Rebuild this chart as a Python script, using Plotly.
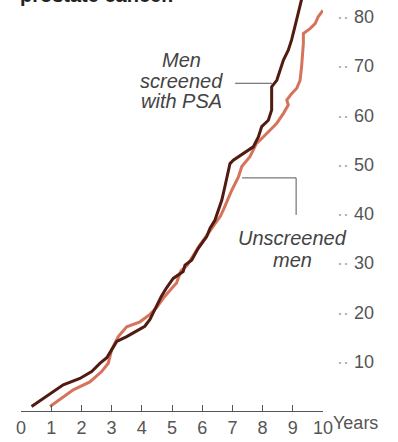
import plotly.graph_objects as go

# Men screened with PSA (dark line)
screened_years = [0.35, 1.07, 1.40, 1.95, 2.34, 2.62, 2.84, 3.00, 3.17, 3.50, 3.94, 4.10,
                  4.27, 4.49, 4.65, 4.82, 5.04, 5.37, 5.43, 5.65, 5.87, 6.15, 6.26, 6.42,
                  6.53, 6.65, 6.75, 6.92, 7.03, 7.36, 7.69, 7.86, 7.97, 8.19, 8.30, 8.30,
                  8.30, 8.47, 8.58, 8.69, 8.85, 8.96, 9.07, 9.18, 9.29, 9.35]
screened_vals = [0.9, 3.9, 5.3, 6.6, 8.0, 9.7, 10.8, 12.4, 14.1, 15.1, 16.6, 17.2,
                 18.6, 21.4, 23.3, 25.0, 26.9, 28.3, 29.6, 30.6, 33.0, 35.4, 37.1, 38.7,
                 40.8, 42.8, 45.5, 50.2, 50.9, 52.3, 53.6, 55.6, 57.7, 59.0, 61.1, 63.1,
                 65.8, 67.1, 69.2, 71.2, 73.2, 75.3, 78.0, 80.7, 83.4, 85.0]

# Unscreened men (light line)
unscreened_years = [0.96, 1.40, 1.73, 2.28, 2.67, 2.89, 3.00, 3.22, 3.50, 3.94, 4.27,
                    4.49, 4.75, 4.95, 5.15, 5.30, 5.50, 5.70, 5.90, 6.10, 6.26, 6.45, 6.60,
                    6.70, 6.98, 7.20, 7.31, 7.58, 7.80, 8.02, 8.25, 8.47, 8.69, 8.85,
                    8.80, 8.96, 9.13, 9.24, 9.29, 9.35, 9.35, 9.57, 9.74, 9.84, 10.0]
unscreened_vals = [0.9, 2.9, 4.3, 5.9, 8.0, 9.7, 12.4, 15.1, 17.1, 18.1, 19.6,
                   21.0, 23.2, 24.6, 26.0, 28.5, 29.5, 31.5, 33.5, 35.2, 36.5, 38.2, 39.5,
                   40.8, 44.8, 47.5, 49.6, 51.6, 54.3, 55.6, 57.0, 58.4, 60.4, 62.1,
                   63.1, 64.4, 65.5, 67.1, 69.8, 74.6, 76.6, 77.6, 78.6, 80.0, 81.3]

x_ticks = list(range(0, 11))
y_ticks = [10, 20, 30, 40, 50, 60, 70, 80]
y_ticktext = ["<span style='color:#aaa'>·· </span>" + str(v) for v in y_ticks]

men_label_lines = ["Men", "screened", "with PSA"]
unscreened_label_lines = ["Unscreened", "men"]

DARK = "#521b11"
LIGHT = "#d6735c"
GREY = "#555555"
FONT = "Liberation Sans"

fig = go.Figure()
fig.add_trace(go.Scatter(x=unscreened_years, y=unscreened_vals, mode="lines",
                         line=dict(color=LIGHT, width=3), showlegend=False))
fig.add_trace(go.Scatter(x=screened_years, y=screened_vals, mode="lines",
                         line=dict(color=DARK, width=3), showlegend=False))

# leader lines
fig.add_shape(type="line", x0=7.09, x1=8.31, y0=66.5, y1=66.5,
              line=dict(color=GREY, width=1))
fig.add_shape(type="line", x0=7.32, x1=9.11, y0=47.3, y1=47.3,
              line=dict(color=GREY, width=1))
fig.add_shape(type="line", x0=9.11, x1=9.11, y0=47.3, y1=39.8,
              line=dict(color=GREY, width=1))

for txt, yv in zip(men_label_lines, [71.2, 66.9, 62.9]):
    fig.add_annotation(x=5.30, y=yv, xref="x", yref="y", showarrow=False,
                       text="<i>" + txt + "</i>", yanchor="middle",
                       font=dict(family=FONT, size=20, color="#444"))
for txt, yv in zip(unscreened_label_lines, [35.1, 30.6]):
    fig.add_annotation(x=8.99, y=yv, xref="x", yref="y", showarrow=False,
                       text="<i>" + txt + "</i>", yanchor="middle",
                       font=dict(family=FONT, size=20, color="#444"))

fig.add_annotation(x=1, y=0, xref="paper", yref="paper", xanchor="left", yanchor="middle",
                   xshift=8, yshift=-12, showarrow=False, text="Years",
                   font=dict(family=FONT, size=18, color=GREY))
fig.add_annotation(x=-0.01, y=1, xref="paper", yref="paper", xanchor="left",
                   yanchor="bottom", yshift=-8, showarrow=False,
                   text="<b>prostate cancer.</b>",
                   font=dict(family=FONT, size=20, color="#222"))

fig.update_layout(
    width=398, height=442,
    margin=dict(l=21, r=75, t=0, b=31, autoexpand=False),
    paper_bgcolor="white", plot_bgcolor="white",
    xaxis=dict(range=[0, 10], tickvals=x_ticks, ticktext=[str(v) for v in x_ticks],
               showgrid=False, zeroline=False, showline=True, linecolor=GREY, linewidth=1,
               ticks="inside", ticklen=6, tickcolor=GREY, automargin=False,
               tickfont=dict(family=FONT, size=18, color=GREY)),
    yaxis=dict(range=[0, 83.4], side="right", tickvals=y_ticks, ticktext=y_ticktext,
               showgrid=False, zeroline=False, showline=False, ticks="",
               ticklabelstandoff=13, automargin=False,
               tickfont=dict(family=FONT, size=18, color=GREY)),
)

fig.write_html("out.html", config={"displayModeBar": False},
               post_script="document.body.style.margin='0px';document.body.style.overflow='hidden';")
